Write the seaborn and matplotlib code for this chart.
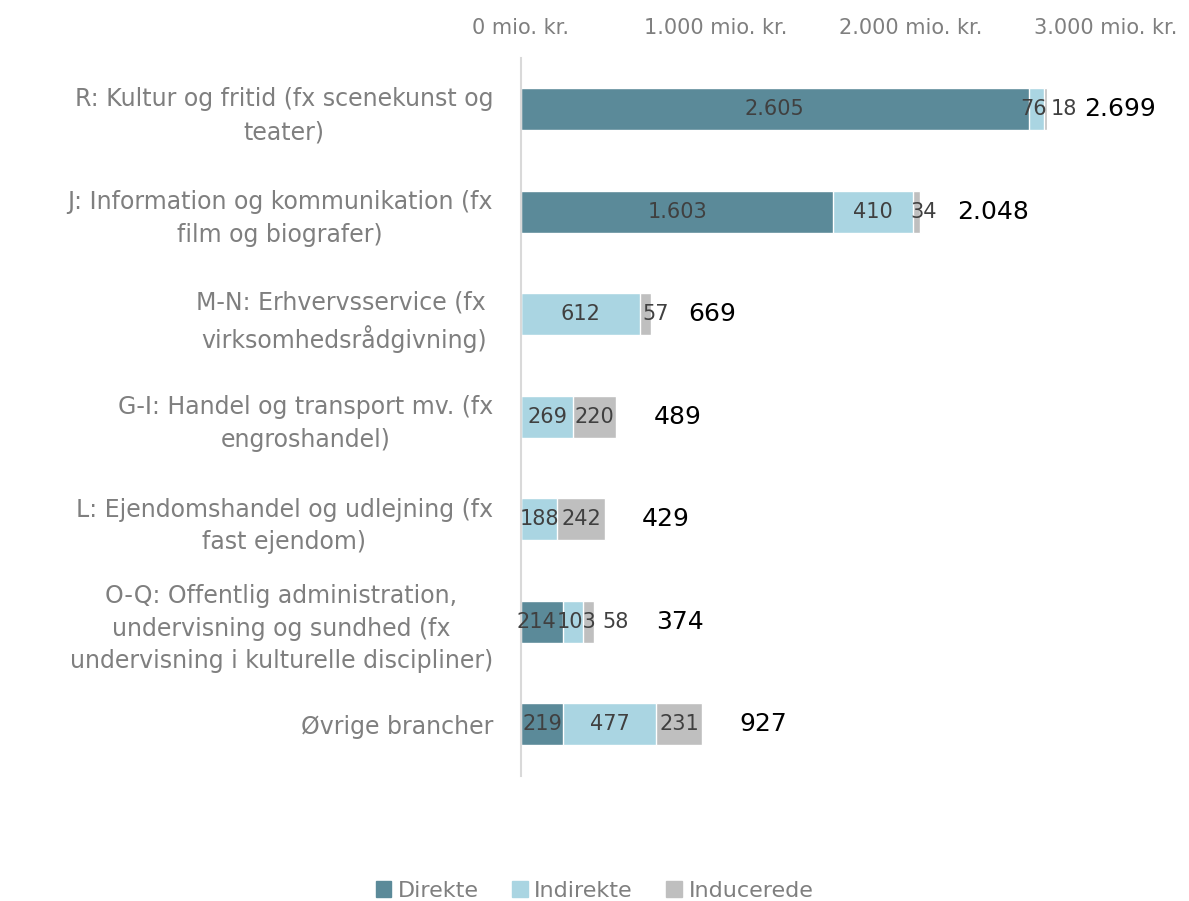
import matplotlib.pyplot as plt
import pandas as pd
import seaborn as sns

# Data
brancher = [
    'R: Kultur og fritid (fx scenekunst og\nteater)',
    'J: Information og kommunikation (fx\nfilm og biografer)',
    'M-N: Erhvervsservice (fx \nvirksomhedsrådgivning)',
    'G-I: Handel og transport mv. (fx\nengroshandel)',
    'L: Ejendomshandel og udlejning (fx\nfast ejendom)',
    'O-Q: Offentlig administration,\nundervisning og sundhed (fx\nundervisning i kulturelle discipliner)',
    'Øvrige brancher',
]
direkte = [2605, 1603, 0, 0, 0, 214, 219]
indirekte = [76, 410, 612, 269, 188, 103, 477]
inducerede = [18, 34, 57, 220, 242, 58, 231]
total = [2699, 2048, 669, 489, 429, 374, 927]
ticks = [0, 1000, 2000, 3000]
tick_labels = ['0 mio. kr.', '1.000 mio. kr.', '2.000 mio. kr.', '3.000 mio. kr.']

farver = {'Direkte': '#5b8a99', 'Indirekte': '#aad5e2', 'Inducerede': '#bfbfbf'}

df = pd.DataFrame({'branche': brancher, 'Direkte': direkte,
                   'Indirekte': indirekte, 'Inducerede': inducerede, 'total': total})
df['d_i'] = df['Direkte'] + df['Indirekte']
df['alle'] = df['d_i'] + df['Inducerede']

sns.set_theme(style='white')
plt.rcParams['font.family'] = ['DejaVu Sans']

fig = plt.figure(figsize=(11.89, 9.01), dpi=100)
ax = fig.add_axes([0.438, 0.139, 0.492, 0.797])

# stablede søjler: tegn totalen først og læg de mindre ovenpå
sns.barplot(data=df, x='alle', y='branche', color=farver['Inducerede'], width=0.41,
            orient='h', ax=ax, saturation=1)
sns.barplot(data=df, x='d_i', y='branche', color=farver['Indirekte'], width=0.41,
            orient='h', ax=ax, saturation=1)
sns.barplot(data=df, x='Direkte', y='branche', color=farver['Direkte'], width=0.41,
            orient='h', ax=ax, saturation=1)

def fmt(v):
    return f'{v:,}'.replace(',', '.')

lab_col = '#404040'
fs = 15

def label(x, y, txt, dx=0, ha='center', size=fs, color=lab_col):
    ax.annotate(txt, (x, y), xytext=(dx, 0), textcoords='offset points',
                ha=ha, va='center', fontsize=size, color=color)

for i, r in df.iterrows():
    smal_ind = r['Indirekte'] < 150
    if r['Direkte'] > 0:
        dx = -4 if (smal_ind and r['Direkte'] < 500) else 0
        label(r['Direkte'] / 2, i, fmt(r['Direkte']), dx=dx)
    dx = -2 if r['Indirekte'] < 100 else (3 if smal_ind else 0)
    label(r['Direkte'] + r['Indirekte'] / 2, i, fmt(r['Indirekte']), dx=dx)
    tot_off = 27
    if r['Inducerede'] >= 100:
        label(r['d_i'] + r['Inducerede'] / 2, i, fmt(r['Inducerede']))
    elif 100 <= r['Indirekte'] < 150:
        # nabo-label fylder mere end søjlen: skub til højre
        label(r['alle'], i, fmt(r['Inducerede']), dx=6, ha='left')
        tot_off = 45
    else:
        label(r['alle'], i, fmt(r['Inducerede']), dx=12 if r['Indirekte'] < 100 else 3)
    label(r['alle'], i, fmt(r['total']), dx=tot_off, ha='left', size=18, color='black')

ax.set_xlim(0, 3000)
ax.set_ylim(6.5, -0.5)
ax.set_xticks(ticks)
ax.set_xticklabels(tick_labels)
ax.xaxis.tick_top()
ax.tick_params(axis='x', length=0, labelsize=15, labelcolor='#7f7f7f', pad=14)
ax.tick_params(axis='y', length=0, labelsize=17, labelcolor='#7f7f7f', pad=20)
for lbl in ax.get_yticklabels():
    lbl.set_multialignment('center')
    lbl.set_linespacing(1.45)
ax.set_xlabel('')
ax.set_ylabel('')
for s in ['top', 'right', 'bottom']:
    ax.spines[s].set_visible(False)
ax.spines['left'].set_color('#d9d9d9')
ax.spines['left'].set_linewidth(1.5)

handles = [plt.Rectangle((0, 0), 1, 1, color=farver[k]) for k in farver]
fig.legend(handles, list(farver.keys()), loc='lower center', ncol=3, frameon=False,
           bbox_to_anchor=(0.5, -0.022), fontsize=16, handlelength=0.7, handleheight=0.7,
           handletextpad=0.3, columnspacing=1.5, labelcolor='#7f7f7f')

fig.savefig('out.png', dpi=100)
